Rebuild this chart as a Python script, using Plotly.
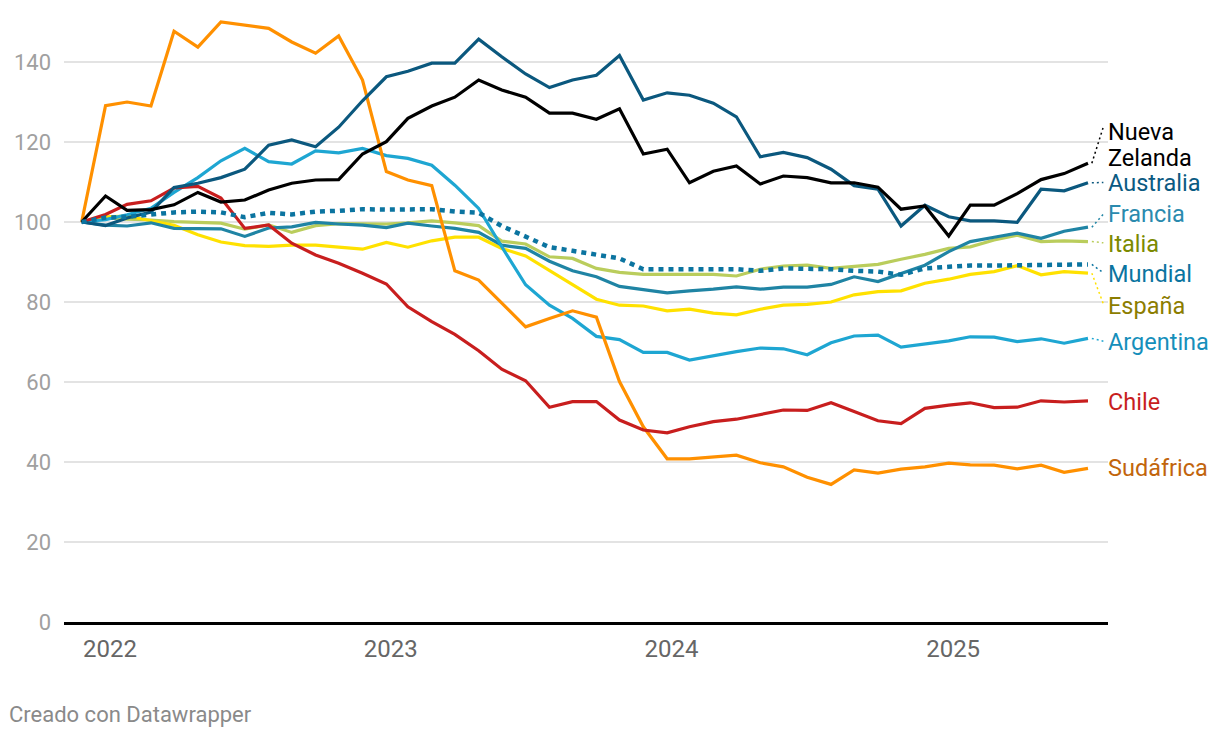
import pandas as pd
import plotly.graph_objects as go

dates = pd.date_range("2022-01-01", periods=44, freq="MS")

sudafrica = [100, 129.1, 130, 129, 147.7, 143.7, 150, 149.2, 148.4, 145, 142.2, 146.5, 135.5, 112.6, 110.5, 109.1,
             87.8, 85.5, 79.7, 73.8, 75.9, 77.8, 76.2, 60.1, 48.8, 40.8, 40.8, 41.3, 41.7, 39.8, 38.8, 36.2,
             34.4, 38, 37.2, 38.2, 38.8, 39.7, 39.3, 39.2, 38.3, 39.2, 37.4, 38.4]
chile = [100, 101.9, 104.4, 105.3, 108.5, 108.9, 106, 98.4, 99.25, 94.7, 91.75, 89.7, 87.2, 84.5, 78.8, 75.1,
         71.9, 67.8, 63.2, 60.3, 53.7, 55.1, 55.1, 50.5, 48, 47.3, 48.8, 50.1, 50.7, 51.9, 53, 52.9,
         54.8, 52.6, 50.3, 49.6, 53.4, 54.2, 54.8, 53.6, 53.7, 55.3, 55, 55.3]
argentina = [100, 100.6, 101.8, 103.4, 107.4, 111.1, 115.3, 118.4, 115.1, 114.5, 117.8, 117.3, 118.4, 116.6, 115.9, 114.2,
             109.2, 103.4, 93.8, 84.3, 79.2, 75.9, 71.4, 70.6, 67.4, 67.4, 65.5, 66.6, 67.6, 68.5, 68.3, 66.8,
             69.8, 71.5, 71.7, 68.7, 69.5, 70.3, 71.3, 71.2, 70.1, 70.8, 69.7, 70.9]
australia = [100, 99.1, 101, 102.5, 108.6, 109.7, 111.1, 113.2, 119.2, 120.5, 118.8, 123.7, 130.3, 136.3, 137.7, 139.7,
             139.7, 145.7, 141.3, 137, 133.6, 135.5, 136.7, 141.6, 130.5, 132.3, 131.7, 129.7, 126.3, 116.3, 117.4, 116.1,
             113.2, 109.1, 108.2, 99, 104.2, 101.3, 100.3, 100.3, 99.9, 108.2, 107.8, 109.8]
nueva_zelanda = [100, 106.5, 102.9, 103.1, 104.3, 107.4, 105, 105.5, 108, 109.7, 110.5, 110.6, 117, 120.1, 125.9, 129,
                 131.2, 135.5, 133, 131.2, 127.2, 127.2, 125.7, 128.3, 117, 118.2, 109.8, 112.7, 114, 109.5, 111.5, 111.1,
                 109.8, 109.8, 108.7, 103.2, 104, 96.5, 104.2, 104.2, 107.1, 110.6, 112.1, 114.7]
mundial = [100, 101.1, 101.3, 101.9, 102.4, 102.6, 102.4, 101.2, 102.3, 101.9, 102.6, 102.8, 103.2, 103.1, 103.2, 103.2,
           102.6, 102.3, 99, 96.3, 93.7, 92.8, 91.8, 90.9, 88.2, 88.2, 88.2, 88.2, 88.2, 87.8, 88.4, 88.3,
           88.2, 87.8, 87.6, 86.8, 88.4, 88.8, 89.1, 89.1, 89.2, 89.1, 89.2, 89.4]
francia = [100, 99.2, 99, 99.8, 98.4, 98.3, 98.3, 96.4, 98.5, 98.8, 99.9, 99.5, 99.2, 98.6, 99.7, 99,
           98.4, 97.4, 94.2, 93.4, 90.2, 87.8, 86.3, 83.9, 83.2, 82.3, 82.8, 83.2, 83.8, 83.2, 83.7, 83.7,
           84.4, 86.3, 85.1, 87.2, 89.2, 92.6, 95.1, 96.2, 97.2, 95.9, 97.7, 98.7]
italia = [100, 101, 100.7, 100.5, 100.1, 99.8, 99.7, 98.2, 99.3, 97.4, 99.1, 99.6, 99.6, 99.5, 99.8, 100.3,
          99.8, 99.1, 95.2, 94.5, 91.3, 90.9, 88.4, 87.4, 86.9, 86.9, 87, 86.9, 86.5, 88.2, 89, 89.2,
          88.4, 88.9, 89.4, 90.7, 91.9, 93.4, 93.8, 95.5, 96.7, 95.1, 95.3, 95.1]
espana = [100, 101.3, 101.5, 100.3, 99.2, 96.8, 95, 94.1, 93.9, 94.2, 94.2, 93.7, 93.2, 94.9, 93.7, 95.3,
          96.2, 96.2, 93.4, 91.5, 87.8, 84.2, 80.7, 79.2, 79, 77.8, 78.2, 77.2, 76.8, 78.2, 79.2, 79.4,
          80, 81.8, 82.6, 82.8, 84.7, 85.7, 86.9, 87.6, 89.1, 86.8, 87.6, 87.2]

y_ticks = [0, 20, 40, 60, 80, 100, 120, 140]
year_ticks = ["2022-01-01", "2023-01-01", "2024-01-01", "2025-01-01"]
year_labels = ["2022", "2023", "2024", "2025"]

# name, values, line colour, label colour, label lines [(text, y)], connector end, dash, width
series = [
    ("Italia", italia, "#bacd5c", "#7b8a00", [("Italia", 94.6)], 94.8, "solid", 3.2),
    ("España", espana, "#ffe100", "#8c7d00", [("España", 79.0)], 79.5, "solid", 3.2),
    ("Francia", francia, "#1f84a4", "#2a8aae", [("Francia", 102.0)], 102.0, "solid", 3.2),
    ("Argentina", argentina, "#1ea6d2", "#168fbb", [("Argentina", 70.0)], 70.2, "solid", 3.2),
    ("Sudáfrica", sudafrica, "#ff9000", "#c2650c", [("Sudáfrica", 38.5)], None, "solid", 3.2),
    ("Chile", chile, "#c81e1e", "#c81e1e", [("Chile", 55.0)], None, "solid", 3.2),
    ("Australia", australia, "#0b587e", "#0b5a82", [("Australia", 109.8)], 109.9, "solid", 3.2),
    ("Nueva Zelanda", nueva_zelanda, "#000000", "#000000", [("Nueva", 122.6), ("Zelanda", 116.1)], 123.8, "solid", 3.2),
    ("Mundial", mundial, "#0b74a0", "#0b74a0", [("Mundial", 87.0)], 87.3, "5px,5px", 4.5),
]

fig = go.Figure()
last_date = dates[-1]
conn_date = last_date + pd.Timedelta(days=20)
for name, vals, col, lcol, labels, end_y, dash, w in series:
    fig.add_trace(go.Scatter(x=dates, y=vals, mode="lines", name=name,
                             line=dict(color=col, width=w, dash=dash),
                             hoverinfo="skip", showlegend=False))
    if end_y is not None:
        fig.add_trace(go.Scatter(x=[last_date + pd.Timedelta(days=5), conn_date], y=[vals[-1], end_y],
                                 mode="lines", line=dict(color=col, width=1.5, dash="2px,3px"),
                                 hoverinfo="skip", showlegend=False))
    for txt, ly in labels:
        fig.add_annotation(x=1.0, xref="paper", y=ly, yref="y", text=txt, showarrow=False,
                           xanchor="left", yanchor="middle", xshift=-2, align="left",
                           font=dict(family="Roboto", size=23.5, color=lcol))

fig.add_annotation(x=0, xref="paper", y=0, yref="paper", yshift=-92, xshift=-57,
                   text="Creado con Datawrapper", showarrow=False, xanchor="left", yanchor="middle",
                   font=dict(family="Roboto", size=22, color="#8a8a8a"))

fig.update_layout(
    width=1220, height=738,
    margin=dict(l=56, r=120, t=6, b=124),
    paper_bgcolor="white", plot_bgcolor="white",
    font=dict(family="Roboto"),
    xaxis=dict(range=["2021-12-09", "2025-08-27"], tickvals=year_ticks, ticktext=year_labels,
               ticklabelposition="outside right", ticks="", showgrid=False,
               showline=True, linecolor="#000000", linewidth=2.5,
               tickfont=dict(family="Roboto", size=24, color="#666666"), zeroline=False,
               ticklabelstandoff=3),
    yaxis=dict(range=[0, 152], tickvals=y_ticks, showgrid=True, gridcolor="#e3e3e3", gridwidth=1.5,
               zeroline=False, ticks="", tickfont=dict(family="Roboto", size=22, color="#a0a0a0"),
               ticklabelstandoff=12),
)

fig.write_html("out.html")
